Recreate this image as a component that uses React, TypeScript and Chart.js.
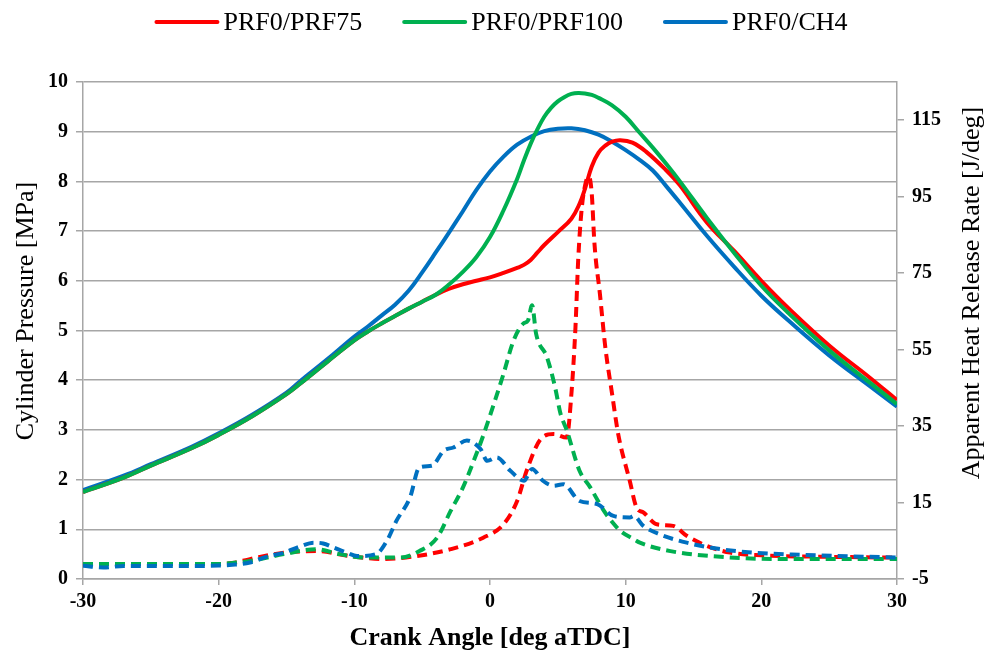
import React, { useEffect, useRef } from "react";
import { Chart, registerables } from "chart.js";

Chart.register(...registerables);

// ---- axis ticks ----
const angleTicks = [-30, -20, -10, 0, 10, 20, 30];
const pressureTicks = [0, 1, 2, 3, 4, 5, 6, 7, 8, 9, 10];
const hrrTicks = [-5, 15, 35, 55, 75, 95, 115];

// ---- series ----
const seriesNames = ["PRF0/PRF75", "PRF0/PRF100", "PRF0/CH4"];
const seriesColors = ["#ff0000", "#00b050", "#0070c0"];

// Cylinder pressure [MPa] vs crank angle [deg aTDC]
const prf75PressureAngle = [-30, -27, -25, -22, -20, -17.5, -15, -14, -12, -10, -9, -8, -7, -6, -5, -4, -3, -2, -1, 0, 1, 2, 2.5, 3, 3.5, 4, 5, 6, 6.6, 7, 7.5, 8, 8.5, 9, 9.6, 10.5, 11.5, 13, 14, 16, 18, 20, 22, 25, 28, 30];
const prf75Pressure = [1.75, 2.04, 2.28, 2.63, 2.9, 3.28, 3.72, 3.93, 4.37, 4.8, 4.98, 5.14, 5.29, 5.44, 5.58, 5.72, 5.84, 5.93, 6.0, 6.07, 6.16, 6.26, 6.32, 6.42, 6.57, 6.72, 6.98, 7.25, 7.55, 7.85, 8.3, 8.58, 8.72, 8.8, 8.83, 8.78, 8.6, 8.22, 7.92, 7.17, 6.6, 6.0, 5.45, 4.7, 4.05, 3.6];

const prf100PressureAngle = [-30, -27, -25, -22, -20, -17.5, -15, -14, -12, -10, -9, -8, -7, -6, -5, -4, -3, -2, -1, 0, 1, 2, 2.5, 3, 3.5, 4, 4.5, 5, 5.5, 6, 6.5, 7, 7.5, 8, 9, 10, 11, 12, 13, 14, 16, 18, 20, 22, 25, 28, 30];
const prf100Pressure = [1.75, 2.04, 2.28, 2.63, 2.9, 3.28, 3.72, 3.93, 4.37, 4.8, 4.98, 5.14, 5.29, 5.44, 5.58, 5.72, 5.93, 6.18, 6.48, 6.88, 7.42, 8.05, 8.42, 8.76, 9.05, 9.3, 9.48, 9.61, 9.7, 9.76, 9.78, 9.77, 9.74, 9.68, 9.53, 9.3, 8.99, 8.68, 8.35, 8.0, 7.26, 6.56, 5.9, 5.35, 4.6, 3.95, 3.52];

const ch4PressureAngle = [-30, -27, -25, -22, -20, -17.5, -15, -14, -12, -10, -9, -8, -7, -6, -5, -4, -3, -2, -1, 0, 1, 2, 3, 4, 5, 6, 7, 8, 9, 10, 11, 12, 13, 14, 16, 18, 20, 22, 25, 28, 30];
const ch4Pressure = [1.79, 2.08, 2.31, 2.66, 2.93, 3.31, 3.75, 3.98, 4.42, 4.88, 5.08, 5.3, 5.52, 5.8, 6.17, 6.57, 6.98, 7.4, 7.83, 8.2, 8.5, 8.74, 8.9, 9.01, 9.06, 9.07, 9.03, 8.94, 8.8, 8.63, 8.44, 8.22, 7.9, 7.57, 6.9, 6.28, 5.7, 5.2, 4.5, 3.88, 3.47];

// Apparent heat release rate [J/deg] vs crank angle [deg aTDC]
const prf75HrrAngle = [-30, -25, -20, -19, -17.7, -15.2, -12.8, -10.3, -7.9, -5.4, -2.9, -0.5, 1.0, 2.0, 2.7, 3.7, 4.7, 5.65, 6.0, 6.3, 6.5, 6.75, 7.1, 7.3, 7.5, 7.7, 8.1, 8.5, 9.0, 9.45, 10.3, 10.8, 11.3, 12.3, 13.5, 14.5, 16.0, 17.7, 20, 25, 30];
const prf75Hrr = [-1.1, -1.1, -1.1, -0.8, 0.2, 1.9, 2.3, 1.0, 0.2, 1.0, 2.8, 5.8, 9.3, 15.4, 23.3, 31.4, 32.9, 32.0, 43.4, 60.9, 78.4, 91.5, 99.3, 100.2, 95.8, 82.7, 69.6, 55.6, 43.4, 32.9, 20.7, 13.7, 12.4, 9.3, 8.9, 6.3, 3.65, 1.9, 1.2, 0.8, 0.6];

const prf100HrrAngle = [-30, -25, -20, -19, -17.7, -15.2, -12.8, -11.1, -9.1, -6.6, -5.2, -3.9, -2.9, -2.0, -1.2, -0.5, 0.37, 1.0, 1.7, 2.45, 2.8, 3.1, 3.4, 4.2, 4.8, 5.2, 5.65, 6.6, 7.4, 8.4, 9.1, 9.6, 10.6, 11.05, 13.3, 17.0, 21.9, 30];
const prf100Hrr = [-1.1, -1.1, -1.1, -0.8, -0.3, 1.5, 2.8, 1.5, 0.6, 0.6, 2.3, 5.8, 12.8, 18.9, 25.9, 32.5, 41.7, 48.7, 57.0, 61.8, 62.6, 66.6, 59.1, 53.0, 45.1, 38.2, 34.0, 23.3, 18.9, 12.8, 9.5, 7.6, 5.4, 4.5, 2.3, 0.8, 0.2, 0.2];

const ch4HrrAngle = [-30, -28.5, -27, -25, -22, -20, -19, -17.7, -16.5, -15.2, -14, -13, -12.3, -11.5, -10.5, -9.8, -8.4, -7.6, -6.9, -5.9, -5.2, -4.3, -3.4, -2.7, -1.7, -0.7, -0.2, 0.5, 1.5, 2.5, 3.1, 3.9, 4.7, 5.4, 6.6, 7.9, 9.1, 10.3, 10.6, 11.3, 12.5, 14.5, 17.0, 19.4, 23.1, 30];
const ch4Hrr = [-1.5, -2.0, -1.6, -1.6, -1.6, -1.5, -1.3, -0.7, 0.8, 1.9, 3.5, 4.5, 4.3, 3.2, 1.8, 1.0, 1.5, 5.0, 10.2, 16.3, 24.2, 24.6, 28.6, 29.4, 31.2, 29.0, 25.9, 26.8, 23.3, 20.7, 23.8, 20.7, 19.4, 19.8, 15.4, 14.6, 11.5, 11.1, 11.5, 8.9, 6.7, 4.5, 2.8, 1.9, 1.3, 0.6];

const pressureTitle = "Cylinder Pressure [MPa]";
const hrrTitle = "Apparent Heat Release Rate [J/deg]";
const angleTitle = "Crank Angle [deg aTDC]";

const SERIF = "'Liberation Serif', 'Times New Roman', serif";
const GRID = "#a6a6a6";

const toPoints = (xs: number[], ys: number[]) => xs.map((x, i) => ({ x, y: ys[i] }));

// Key above the plot: a short solid stroke per series, then its name
const seriesKeyPlugin = {
  id: "seriesKey",
  afterDraw(chart: any) {
    const ctx = chart.ctx as CanvasRenderingContext2D;
    ctx.save();
    ctx.font = `26px ${SERIF}`;
    ctx.textBaseline = "middle";
    ctx.textAlign = "left";
    const strokeLen = 65;
    const textGap = 4;
    const itemGap = 40;
    const widths = seriesNames.map((n) => strokeLen + textGap + ctx.measureText(n).width);
    const total = widths.reduce((a, b) => a + b, 0) + itemGap * (widths.length - 1);
    const centerX = 501;
    const y = 22;
    let x = centerX - total / 2;
    seriesNames.forEach((name, i) => {
      ctx.strokeStyle = seriesColors[i];
      ctx.lineWidth = 4;
      ctx.lineCap = "round";
      ctx.beginPath();
      ctx.moveTo(x + 2, y);
      ctx.lineTo(x + strokeLen - 2, y);
      ctx.stroke();
      ctx.fillStyle = "#000";
      ctx.fillText(name, x + strokeLen + textGap, y + 1);
      x += widths[i] + itemGap;
    });
    ctx.restore();
  },
};

// Both vertical axis titles read bottom-to-top
const sideTitlesPlugin = {
  id: "sideTitles",
  afterDraw(chart: any) {
    const ctx = chart.ctx as CanvasRenderingContext2D;
    const draw = (text: string, x: number, y: number) => {
      ctx.save();
      ctx.translate(x, y);
      ctx.rotate(-Math.PI / 2);
      ctx.font = `26px ${SERIF}`;
      ctx.fillStyle = "#000";
      ctx.textAlign = "center";
      ctx.textBaseline = "middle";
      ctx.fillText(text, 0, 0);
      ctx.restore();
    };
    draw(pressureTitle, 26, 311);
    draw(hrrTitle, 972, 293);
  },
};

export default function App() {
  const canvasRef = useRef<HTMLCanvasElement | null>(null);

  useEffect(() => {
    const canvas = canvasRef.current;
    if (!canvas) return;

    const solid = (i: number, xs: number[], ys: number[]) => ({
      label: seriesNames[i],
      data: toPoints(xs, ys),
      yAxisID: "y",
      borderColor: seriesColors[i],
      backgroundColor: seriesColors[i],
      borderWidth: 4,
      pointRadius: 0,
      fill: false,
      tension: 0.4,
    });
    const dashed = (i: number, xs: number[], ys: number[]) => ({
      label: seriesNames[i] + " HRR",
      data: toPoints(xs, ys),
      yAxisID: "y1",
      borderColor: seriesColors[i],
      backgroundColor: seriesColors[i],
      borderWidth: 4,
      borderDash: [10, 6],
      pointRadius: 0,
      fill: false,
      cubicInterpolationMode: "monotone" as const,
    });

    const tickFont = { family: SERIF, size: 20, weight: "bold" as const };

    const chart = new Chart(canvas, {
      type: "line",
      data: {
        datasets: [
          dashed(2, ch4HrrAngle, ch4Hrr),
          dashed(1, prf100HrrAngle, prf100Hrr),
          dashed(0, prf75HrrAngle, prf75Hrr),
          solid(1, prf100PressureAngle, prf100Pressure),
          solid(0, prf75PressureAngle, prf75Pressure),
          solid(2, ch4PressureAngle, ch4Pressure),
        ],
      },
      options: {
        responsive: false,
        animation: false,
        devicePixelRatio: 1,
        layout: { padding: { top: 82, left: 0, right: 0, bottom: 0 } },
        plugins: {
          legend: { display: false },
          tooltip: { enabled: false },
        },
        scales: {
          x: {
            type: "linear",
            position: "bottom",
            min: angleTicks[0],
            max: angleTicks[angleTicks.length - 1],
            afterBuildTicks: (scale: any) => {
              scale.ticks = angleTicks.map((v) => ({ value: v }));
            },
            afterFit: (scale: any) => {
              scale.height = 73;
            },
            grid: { drawOnChartArea: false, drawTicks: true, tickLength: 6, color: GRID, lineWidth: 1.5 },
            border: { display: true, color: GRID, width: 1.5 },
            ticks: { font: tickFont, color: "#000", padding: 5, maxRotation: 0 },
            title: {
              display: true,
              text: angleTitle,
              font: { family: SERIF, size: 26, weight: "bold", lineHeight: 1 },
              color: "#000",
              padding: { top: 0, bottom: 1 },
            },
          },
          y: {
            type: "linear",
            position: "left",
            min: pressureTicks[0],
            max: pressureTicks[pressureTicks.length - 1],
            afterBuildTicks: (scale: any) => {
              scale.ticks = pressureTicks.map((v) => ({ value: v }));
            },
            afterFit: (scale: any) => {
              scale.width = 83;
            },
            grid: { drawOnChartArea: true, drawTicks: true, tickLength: 7, color: GRID, lineWidth: 1.5 },
            border: { display: true, color: GRID, width: 1.5 },
            ticks: { font: tickFont, color: "#000", padding: 8 },
          },
          y1: {
            type: "linear",
            position: "right",
            min: -5,
            max: 125,
            afterBuildTicks: (scale: any) => {
              scale.ticks = hrrTicks.map((v) => ({ value: v }));
            },
            afterFit: (scale: any) => {
              scale.width = 87;
            },
            grid: { drawOnChartArea: false, drawTicks: true, tickLength: 7, color: GRID, lineWidth: 1.5 },
            border: { display: true, color: GRID, width: 1.5 },
            ticks: { font: tickFont, color: "#000", padding: 8 },
          },
        },
      },
      plugins: [seriesKeyPlugin, sideTitlesPlugin],
    });

    return () => chart.destroy();
  }, []);

  return (
    <div style={{ position: "fixed", left: 0, top: 0, width: 984, height: 652, background: "#fff" }}>
      <canvas ref={canvasRef} width={984} height={652} style={{ display: "block" }} />
    </div>
  );
}
